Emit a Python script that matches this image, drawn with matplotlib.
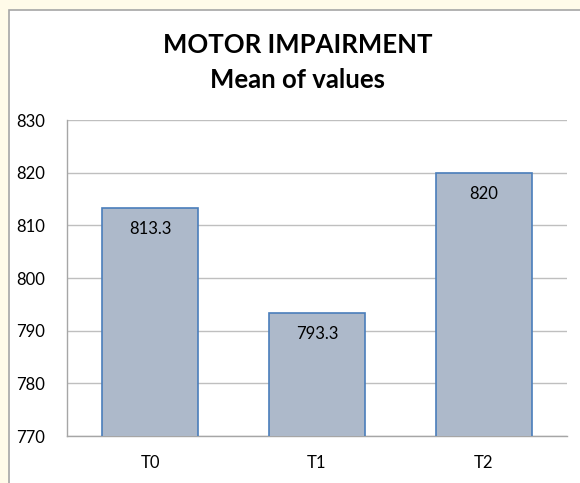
import matplotlib.pyplot as plt
from matplotlib.patches import Rectangle

categories = ['T0', 'T1', 'T2']
means = [813.3, 793.3, 820]
bar_labels = ['813.3', '793.3', '820']
y_ticks = [770, 780, 790, 800, 810, 820, 830]

plt.rcParams['font.family'] = ['Lato', 'DejaVu Sans']

W, H = 580, 483
fig = plt.figure(figsize=(W / 100, H / 100), dpi=100)
fig.patch.set_facecolor('#FFFBE9')

# white chart area with grey border
fig.patches.append(Rectangle((9 / W, -0.1), 1.2, 1.1 - 10 / H,
                             transform=fig.transFigure, facecolor='white',
                             edgecolor='#A6A6A6', linewidth=1.2, zorder=-5))

ax = fig.add_axes([67 / W, 1 - 436 / H, 500 / W, (436 - 120) / H])
ax.set_facecolor('white')

x = range(len(categories))
ax.bar(x, means, width=0.575, color='#ADB9CA',
       edgecolor='#4A7EBB', linewidth=1.2, zorder=3)
ax.set_ylim(770, 830)
ax.set_xlim(-0.5, 2.5)
ax.set_yticks(y_ticks)
ax.set_xticks(list(x))
ax.set_xticklabels(categories)
ax.grid(axis='y', color='#BFBFBF', linewidth=1, zorder=0)
ax.tick_params(axis='both', length=0, labelsize=12, colors='#000000')
ax.tick_params(axis='y', pad=16)
ax.tick_params(axis='x', pad=14)
for s in ['top', 'right']:
    ax.spines[s].set_visible(False)
for s in ['left', 'bottom']:
    ax.spines[s].set_color('#A6A6A6')
    ax.spines[s].set_linewidth(1)

for xi, v, lab in zip(x, means, bar_labels):
    ax.annotate(lab, (xi, v), xytext=(0, -15), textcoords='offset points',
                ha='center', va='center', fontsize=12, zorder=4)

fig.text(298 / W, 1 - 45 / H, 'MOTOR IMPAIRMENT', ha='center', va='center',
         fontsize=18.5, fontweight='bold')
fig.text(298 / W, 1 - 80 / H, 'Mean of values', ha='center', va='center',
         fontsize=18.5, fontweight='bold')

fig.savefig('out.png', dpi=100, facecolor=fig.get_facecolor())
